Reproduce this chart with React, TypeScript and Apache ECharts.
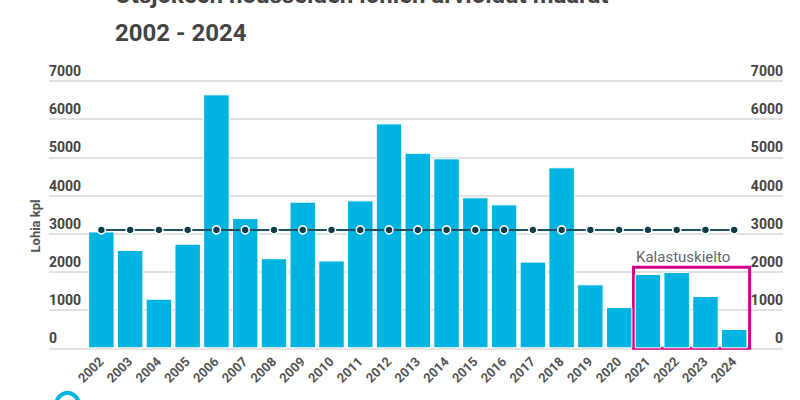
import React, { useEffect, useRef } from "react";
import * as echarts from "echarts";

const categories = [
  "2002", "2003", "2004", "2005", "2006", "2007", "2008", "2009", "2010", "2011", "2012",
  "2013", "2014", "2015", "2016", "2017", "2018", "2019", "2020", "2021", "2022", "2023", "2024",
];
const salmonCounts = [
  3060, 2575, 1300, 2740, 6650, 3410, 2360, 3840, 2300, 3875, 5890,
  5120, 4975, 3955, 3770, 2270, 4740, 1675, 1080, 1945, 2000, 1370, 506,
];
const limitValues = [
  3100, 3100, 3100, 3100, 3100, 3100, 3100, 3100, 3100, 3100, 3100,
  3100, 3100, 3100, 3100, 3100, 3100, 3100, 3100, 3100, 3100, 3100, 3100,
];
const yMin = 0;
const yMax = 7000;
const yInterval = 1000;
const banStart = "2021";
const banEnd = "2024";
const banBoxTop = 2120;
const banLabel = "Kalastuskielto";
const titleText = "Utsjokeen nousseiden lohien arvioidut määrät\n2002 - 2024";
const yAxisTitle = "Lohia kpl";

const FONT = "Roboto, 'Noto Sans', sans-serif";

export default function App() {
  const ref = useRef<HTMLDivElement>(null);
  useEffect(() => {
    if (!ref.current) return;
    const chart = echarts.init(ref.current, undefined, { renderer: "svg" });
    const plain = (v: number) => String(v);
    const option: any = {
      animation: false,
      backgroundColor: "#ffffff",
      textStyle: { fontFamily: FONT },
      grid: [
        { left: 87, right: 51.4, top: 81, bottom: 51.7, containLabel: false },
        { left: 49, right: 17, top: 81, bottom: 51.7, containLabel: false },
      ],
      xAxis: [
        {
          type: "category",
          gridIndex: 0,
          data: categories,
          axisLine: { show: false },
          axisTick: { show: false },
          axisLabel: {
            interval: 0,
            rotate: 45,
            margin: 11,
            fontSize: 13,
            fontWeight: "bold",
            color: "#555555",
            fontFamily: FONT,
          },
        },
        {
          type: "value",
          gridIndex: 1,
          min: 0,
          max: 1,
          axisLine: { show: false },
          axisTick: { show: false },
          axisLabel: { show: false },
          splitLine: { show: false },
        },
      ],
      yAxis: [
        { type: "value", gridIndex: 0, min: yMin, max: yMax, interval: yInterval, show: false },
        {
          type: "value",
          gridIndex: 1,
          position: "left",
          min: yMin,
          max: yMax,
          interval: yInterval,
          axisLine: { show: false },
          axisTick: { show: false },
          splitLine: { show: true, lineStyle: { color: "#d8d8d8", width: 1.5, type: "solid" } },
          axisLabel: {
            inside: true,
            margin: 0,
            align: "left",
            verticalAlign: "bottom",
            padding: [0, 0, 3, 0],
            fontSize: 14,
            fontWeight: "bold",
            color: "#444444",
            fontFamily: FONT,
            formatter: plain,
          },
        },
        {
          type: "value",
          gridIndex: 1,
          position: "right",
          min: yMin,
          max: yMax,
          interval: yInterval,
          axisLine: { show: false },
          axisTick: { show: false },
          splitLine: { show: false },
          axisLabel: {
            inside: true,
            margin: 0,
            align: "right",
            verticalAlign: "bottom",
            padding: [0, 0, 3, 0],
            fontSize: 14,
            fontWeight: "bold",
            color: "#444444",
            fontFamily: FONT,
            formatter: plain,
          },
        },
      ],
      graphic: [
        {
          type: "text",
          left: 115,
          top: -24,
          style: {
            text: titleText,
            font: `bold 24px ${FONT}`,
            lineHeight: 38,
            fill: "#444444",
          },
        },
        {
          type: "text",
          x: 35,
          y: 226,
          rotation: Math.PI / 2,
          style: {
            text: yAxisTitle,
            font: `bold 13px ${FONT}`,
            fill: "#555555",
            align: "center",
            verticalAlign: "middle",
          },
        },
        {
          type: "circle",
          shape: { cx: 67.5, cy: 404, r: 11 },
          style: { fill: "none", stroke: "#00b4e2", lineWidth: 4 },
        },
      ],
      series: [
        {
          type: "line",
          xAxisIndex: 1,
          yAxisIndex: 1,
          data: [],
          silent: true,
        },
        {
          type: "custom",
          xAxisIndex: 0,
          yAxisIndex: 0,
          z: 1,
          silent: true,
          encode: { x: [0, 1], y: 2 },
          data: [[categories.indexOf(banStart), categories.indexOf(banEnd), banBoxTop]],
          renderItem: (params: any, api: any) => {
            const topLeft = api.coord([api.value(0), api.value(2)]);
            const bottomRight = api.coord([api.value(1), 0]);
            const band = api.size([1, 0])[0];
            const x0 = topLeft[0] - band / 2;
            const x1 = bottomRight[0] + band / 2 + 1;
            const y0 = topLeft[1];
            const y1 = bottomRight[1];
            return {
              type: "group",
              children: [
                {
                  type: "rect",
                  shape: { x: x0, y: y0, width: x1 - x0, height: y1 - y0 },
                  style: { fill: "none", stroke: "#d4008a", lineWidth: 3 },
                },
                {
                  type: "text",
                  x: x0 + 2.5,
                  y: y0 - 3,
                  style: {
                    text: banLabel,
                    font: `15px ${FONT}`,
                    fill: "#666666",
                    align: "left",
                    verticalAlign: "bottom",
                  },
                },
              ],
            };
          },
        },
        {
          type: "bar",
          xAxisIndex: 0,
          yAxisIndex: 0,
          z: 2,
          data: salmonCounts,
          barCategoryGap: "8%",
          itemStyle: { color: "#00b4e2", borderColor: "#ffffff", borderWidth: 1 },
        },
        {
          type: "line",
          xAxisIndex: 0,
          yAxisIndex: 0,
          z: 3,
          data: limitValues,
          symbol: "circle",
          symbolSize: 8,
          showSymbol: true,
          lineStyle: { color: "#1e5162", width: 2 },
          itemStyle: { color: "#0e3c4c", borderColor: "#ffffff", borderWidth: 1.5 },
        },
      ],
    };
    chart.setOption(option);
    return () => chart.dispose();
  }, []);
  return (
    <div
      ref={ref}
      style={{ position: "fixed", left: 0, top: 0, width: 800, height: 400 }}
    />
  );
}
